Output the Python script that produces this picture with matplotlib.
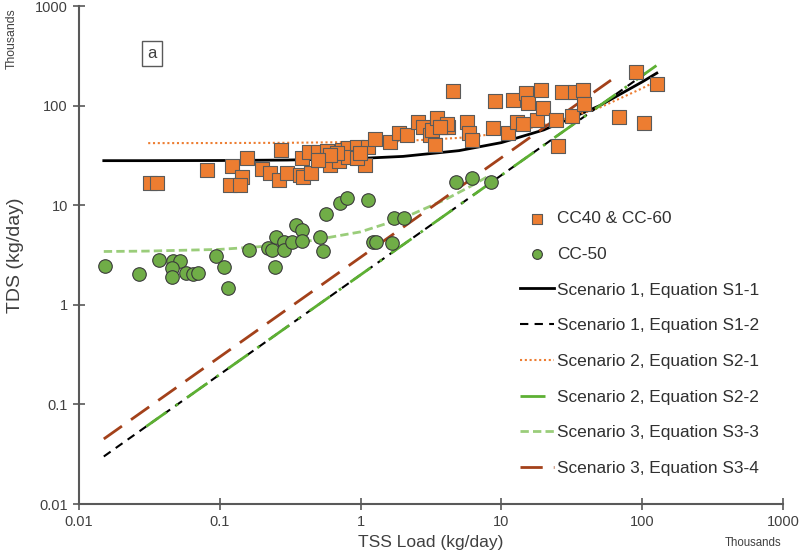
import matplotlib
matplotlib.use('Agg')
import matplotlib.pyplot as plt
from matplotlib.ticker import FixedLocator, NullLocator

plt.rcParams['font.family'] = ['Liberation Sans', 'DejaVu Sans']

# CC40 & CC-60 (orange squares)
cc40_x = [0.0319, 0.0358, 0.081, 0.122, 0.156, 0.144, 0.118, 0.139, 0.20, 0.227,
          0.272, 0.263, 0.30, 0.371, 0.39, 0.444, 0.384, 0.43, 0.498, 0.577,
          0.532, 0.607, 0.703, 0.738, 0.813, 0.943, 1.13, 1.07, 1.26, 1.62,
          1.87, 2.14, 2.56, 2.77, 3.11, 3.21, 3.49, 3.78, 4.18, 4.11,
          3.38, 4.53, 0.813, 0.943, 0.68, 0.607, 0.498, 0.99, 5.7, 5.89,
          6.18, 9.01, 8.71, 11.1, 12.1, 12.9, 14.2, 15.0, 15.5, 17.9,
          19.1, 19.7, 24.4, 25.2, 26.9, 31.7, 33.3, 38.0, 38.6, 68.4,
          90.4, 103, 127, 3.66]
cc40_y = [16.7, 16.7, 22.6, 24.8, 29.8, 19.2, 16.0, 16.0, 23.1, 21.0,
          35.8, 17.9, 21.0, 20.1, 19.2, 21.0, 29.8, 34.2, 34.2, 35.0,
          28.4, 25.3, 27.8, 35.8, 37.5, 38.4, 38.4, 25.3, 46.2, 43.1,
          53.1, 50.7, 68.4, 61.0, 50.7, 56.9, 75.1, 61.0, 61.0, 65.3,
          40.2, 140, 30.5, 29.8, 33.4, 31.9, 28.4, 33.4, 68.4, 53.1,
          45.2, 111, 59.6, 53.1, 114, 68.4, 65.3, 134, 106, 71.6,
          143, 94.6, 71.6, 39.3, 137, 78.7, 137, 143, 104, 76.9,
          217, 66.8, 165, 61.0]

# CC-50 (green circles)
cc50_x = [0.0153, 0.0267, 0.037, 0.0465, 0.0522, 0.0458, 0.0458, 0.0575, 0.0645, 0.07,
          0.094, 0.107, 0.114, 0.161, 0.22, 0.235, 0.251, 0.247, 0.286, 0.286,
          0.326, 0.348, 0.384, 0.384, 0.515, 0.541, 0.568, 0.714, 0.80, 1.13,
          1.22, 1.29, 1.67, 1.73, 2.03, 4.76, 6.18, 8.43]
cc50_y = [2.45, 2.04, 2.82, 2.75, 2.75, 2.34, 1.90, 2.09, 2.04, 2.09,
          3.09, 2.40, 1.47, 3.55, 3.72, 3.55, 4.80, 2.40, 4.27, 3.55,
          4.27, 6.32, 5.63, 4.37, 4.80, 3.47, 8.16, 10.5, 11.8, 11.3,
          4.27, 4.27, 4.17, 7.43, 7.43, 17.1, 18.8, 17.1]

# fitted curves, values
s11_x = [0.015, 0.03, 0.1, 0.3, 1, 2, 5, 10, 20, 50, 100, 127]
s11_y = [28.0, 28.0, 28.1, 28.4, 29.5, 30.9, 35.3, 42.5, 57, 100, 173, 212]
s12_x = [0.015, 110]
s12_y = [0.03, 220]
s21_x = [0.031, 0.1, 0.3, 1, 2, 5, 10, 20, 50, 100, 130]
s21_y = [42.0, 42.1, 42.3, 43.1, 44.1, 47.4, 52.7, 63.4, 95.5, 149, 181]
s22_x = [0.030, 128]
s22_y = [0.060, 256]
s33_x = [0.015, 0.03, 0.1, 0.3, 1, 2, 4, 6, 8.3]
s33_y = [3.43, 3.46, 3.6, 4.0, 5.4, 7.4, 11.4, 15.4, 20.0]
s34_x = [0.015, 60]
s34_y = [0.045, 180]

ticks = [0.01, 0.1, 1, 10, 100, 1000]
tick_labels = ['0.01', '0.1', '1', '10', '100', '1000']

fig = plt.figure(figsize=(8, 5.54), dpi=100)
ax = fig.add_axes([79 / 800, 50 / 554, 704 / 800, 498 / 554])

orange = '#ED7D31'
green = '#70AD47'
axcol = '#595959'

sq = ax.scatter(cc40_x, cc40_y, marker='s', s=115, c=orange, edgecolors='#5a5a5a',
                linewidths=0.8, zorder=3, label='CC40 & CC-60')
ci = ax.scatter(cc50_x, cc50_y, marker='o', s=95, c=green, edgecolors='#3a3a3a',
                linewidths=0.8, zorder=3, label='CC-50')

l1, = ax.plot(s11_x, s11_y, color='black', lw=2, label='Scenario 1, Equation S1-1', zorder=2)
l2, = ax.plot(s12_x, s12_y, color='black', lw=1.5, dashes=(4, 3),
              label='Scenario 1, Equation S1-2', zorder=2)
l3, = ax.plot(s21_x, s21_y, color=orange, lw=1.5, dashes=(1, 1.3),
              label='Scenario 2, Equation S2-1', zorder=2)
l4, = ax.plot(s22_x, s22_y, color='#5DB033', lw=2, dashes=(9, 4, 1, 4),
              label='Scenario 2, Equation S2-2', zorder=2)
l5, = ax.plot(s33_x, s33_y, color='#9ACD7A', lw=2, dashes=(3, 1.5),
              label='Scenario 3, Equation S3-3', zorder=2)
l6, = ax.plot(s34_x, s34_y, color='#A3411A', lw=2, dashes=(8, 4),
              label='Scenario 3, Equation S3-4', zorder=2)

ax.set_xscale('log')
ax.set_yscale('log')
ax.set_xlim(0.01, 1000)
ax.set_ylim(0.01, 1000)
ax.xaxis.set_major_locator(FixedLocator(ticks))
ax.yaxis.set_major_locator(FixedLocator(ticks))
ax.xaxis.set_minor_locator(NullLocator())
ax.yaxis.set_minor_locator(NullLocator())
ax.set_xticklabels(tick_labels)
ax.set_yticklabels(tick_labels)
ax.tick_params(direction='inout', length=8, width=1.2, color=axcol,
               labelsize=10.5, labelcolor='#404040', pad=4)

for side in ['top', 'right']:
    ax.spines[side].set_visible(False)
for side in ['left', 'bottom']:
    ax.spines[side].set_color(axcol)
    ax.spines[side].set_linewidth(1.5)

ax.set_xlabel('TSS Load (kg/day)', fontsize=12.5, color='#404040', labelpad=4)
ax.set_ylabel('TDS (kg/day)', fontsize=14, color='#404040', labelpad=8)

fig.text(753 / 800, 1 - 543 / 554, 'Thousands', fontsize=8.3, color='#404040',
         ha='center', va='center')
fig.text(12 / 800, 1 - 39 / 554, 'Thousands', fontsize=8.8, color='#404040',
         ha='center', va='center', rotation=90)
ax.text(0.1035, 0.905, 'a', transform=ax.transAxes, fontsize=12, color='#404040',
        ha='center', va='center',
        bbox=dict(boxstyle='square,pad=0.3', fc='white', ec='#595959', lw=1))

ax.legend(handles=[sq, ci, l1, l2, l3, l4, l5, l6], loc='upper left',
          bbox_to_anchor=(520 / 800, 1 - 211 / 554), bbox_transform=fig.transFigure,
          frameon=False, fontsize=12.4, labelcolor='#303030', handlelength=2.0,
          handletextpad=0.15, labelspacing=1.2, borderpad=0, borderaxespad=0,
          markerscale=0.72)

fig.savefig('out.png', dpi=100)
